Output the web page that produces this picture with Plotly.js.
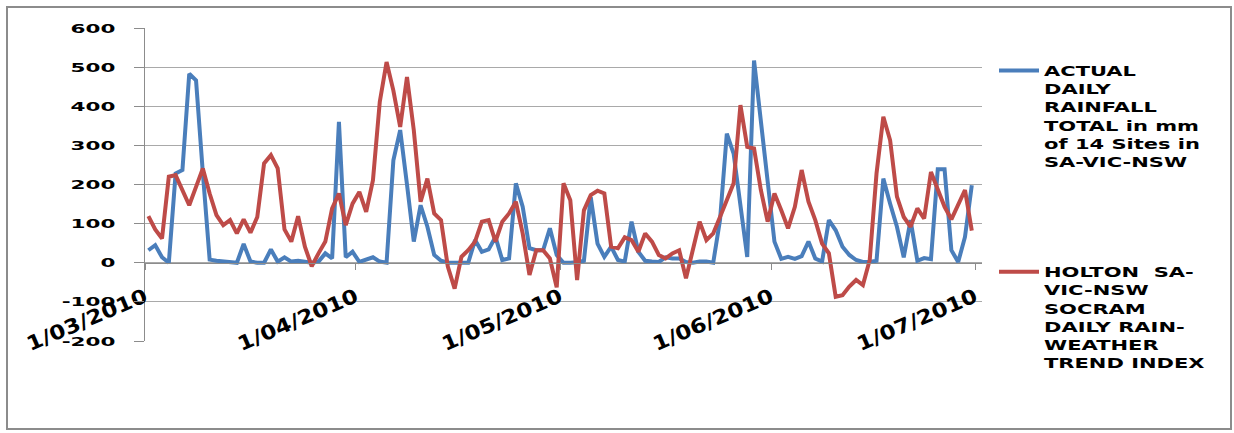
<!DOCTYPE html>
<html>
<head>
<meta charset="utf-8">
<script src="https://cdn.plot.ly/plotly-3.0.1.min.js"></script>
<style>
  html, body { margin: 0; padding: 0; background: #ffffff; }
  #chart { width: 1234px; height: 433px; }
</style>
</head>
<body>
<div id="chart"></div>
<script>
// Daily series, 1 March 2010 to 30 June 2010 (one value per day)
const startDate = [2010, 2, 1]; // year, month index, day
const actualRainfall = [
  32, 45, 14, 0, 228, 237, 483, 466, 230, 8,
  5, 3, 1, 0, 48, 3, 0, 0, 34, 3,
  14, 3, 5, 2, 0, 3, 24, 11, 360, 14,
  28, 2, 7, 14, 3, 0, 262, 339, 200, 54,
  147, 92, 20, 5, 0, 0, 0, 0, 58, 28,
  34, 66, 7, 11, 203, 143, 37, 32, 32, 88,
  20, 0, 0, 1, 5, 168, 49, 15, 41, 7,
  3, 105, 28, 5, 3, 2, 14, 11, 11, 2,
  0, 3, 3, 0, 109, 330, 279, 151, 15, 517,
  360, 190, 54, 10, 15, 10, 17, 54, 11, 3,
  109, 83, 41, 20, 7, 2, 2, 5, 215, 151,
  92, 14, 109, 5, 12, 9, 239, 239, 32, 2,
  66, 198
];
const trendIndex = [
  119, 85, 62, 220, 224, 186, 147, 194, 241, 177,
  122, 96, 109, 75, 111, 77, 117, 254, 275, 241,
  85, 54, 119, 41, -9, 24, 54, 139, 177, 96,
  151, 181, 130, 211, 411, 513, 440, 347, 475, 339,
  156, 215, 126, 109, -10, -66, 15, 32, 54, 105,
  109, 54, 105, 126, 156, 75, -31, 32, 32, 11,
  -63, 203, 160, -44, 134, 173, 184, 177, 41, 37,
  65, 58, 28, 75, 54, 20, 11, 24, 32, -40,
  35, 105, 58, 75, 117, 160, 203, 403, 296, 292,
  186, 105, 177, 134, 88, 143, 237, 156, 109, 49,
  24, -87, -83, -61, -44, -57, 7, 228, 373, 313,
  169, 117, 92, 139, 113, 232, 186, 143, 111, 147,
  186, 82
];
const seriesNames = [
  'ACTUAL<br>DAILY<br>RAINFALL<br>TOTAL in mm<br>of 14 Sites in<br>SA-VIC-NSW',
  'HOLTON\u00a0 SA-<br>VIC-NSW<br>SOCRAM<br>DAILY RAIN-<br>WEATHER<br>TREND INDEX'
];
const monthTicks = ['2010-03-01', '2010-04-01', '2010-05-01', '2010-06-01', '2010-07-01'];
const monthLabels = ['1/03/2010', '1/04/2010', '1/05/2010', '1/06/2010', '1/07/2010'];
const valueTicks = [-200, -100, 0, 100, 200, 300, 400, 500, 600];
const valueLabels = ['-200', '-100', '0', '100', '200', '300', '400', '500', '600'];

// each day's value sits in the middle of its day slot
function dayStamp(i) {
  const d = new Date(Date.UTC(startDate[0], startDate[1], startDate[2] + i));
  return d.toISOString().slice(0, 10) + ' 12:00';
}
const days = actualRainfall.map((_, i) => dayStamp(i));

const FONT = 'DejaVu Sans, Verdana, sans-serif';
const GRID = '#a9a9a9';
const AXIS = '#8c8c8c';

const traces = [
  {
    x: days, y: actualRainfall, name: seriesNames[0], type: 'scatter', mode: 'lines',
    line: { color: '#4A7EBB', width: 4 }, legendgroup: 'a'
  },
  {
    x: days, y: trendIndex, name: seriesNames[1], type: 'scatter', mode: 'lines',
    line: { color: '#BE4B48', width: 4 }, legendgroup: 'b'
  }
];

const L = 145, R = 252, T = 28, B = 92;
const W = 1234, H = 433;
const pw = W - L - R, ph = H - T - B;
const px = v => (v - L) / pw;          // pixel column -> paper x
const py = v => (H - B - v) / ph;      // pixel row -> paper y

const layout = {
  width: W, height: H,
  margin: { l: L, r: R, t: T, b: B, pad: 0 },
  paper_bgcolor: '#ffffff', plot_bgcolor: '#ffffff',
  font: { family: FONT, color: '#000000' },
  showlegend: true,
  legend: {
    x: px(994), y: py(55), xanchor: 'left', yanchor: 'top',
    font: { family: FONT, size: 14, weight: 'bold', color: '#000000' },
    valign: 'top', traceorder: 'grouped', tracegroupgap: 89,
    itemwidth: 40, bgcolor: 'rgba(0,0,0,0)'
  },
  xaxis: {
    type: 'date',
    range: ['2010-03-01', '2010-07-02'],
    anchor: 'free', position: 0.25,
    tickmode: 'array', tickvals: monthTicks, ticktext: monthLabels,
    tickangle: -23,
    tickfont: { family: FONT, size: 20, weight: 'bold', color: '#000000' },
    ticks: 'outside', ticklen: 6, tickcolor: AXIS, tickwidth: 1,
    ticklabelstandoff: 8,
    showline: true, linecolor: AXIS, linewidth: 1,
    showgrid: false, zeroline: false, fixedrange: true, automargin: false
  },
  yaxis: {
    range: [-200, 600],
    tickmode: 'array', tickvals: valueTicks, ticktext: valueLabels,
    tickfont: { family: FONT, size: 13, weight: 'bold', color: '#000000' },
    ticks: 'outside', ticklen: 10, tickcolor: AXIS, tickwidth: 1,
    ticklabelstandoff: 16,
    showline: true, linecolor: AXIS, linewidth: 1,
    showgrid: true, gridcolor: GRID, gridwidth: 1,
    zeroline: false, fixedrange: true, automargin: false
  },
  shapes: [{
    type: 'rect', xref: 'paper', yref: 'paper', layer: 'below',
    x0: px(7), x1: px(1231), y0: py(429), y1: py(7),
    line: { color: '#8c8c8c', width: 2 }, fillcolor: 'rgba(0,0,0,0)'
  }]
};

// widen the lettering of axis and legend text
function widen(selector, factor) {
  document.querySelectorAll(selector).forEach(t => {
    const lines = t.querySelectorAll('tspan.line');
    const parts = lines.length ? Array.from(lines) : [t];
    parts.forEach(p => {
      const len = p.getComputedTextLength();
      if (len > 0) {
        p.setAttribute('textLength', (len * factor).toFixed(1));
        p.setAttribute('lengthAdjust', 'spacingAndGlyphs');
      }
    });
  });
}

Plotly.newPlot('chart', traces, layout, { displayModeBar: false, staticPlot: true }).then(() => {
  widen('.ytick text', 1.65);
  widen('.xtick text', 1.15);
  widen('.legendtext', 1.5);
  // the widened legend text runs past the legend's own clip box
  document.querySelectorAll('.legend [clip-path]').forEach(e => e.removeAttribute('clip-path'));
});
</script>
</body>
</html>
